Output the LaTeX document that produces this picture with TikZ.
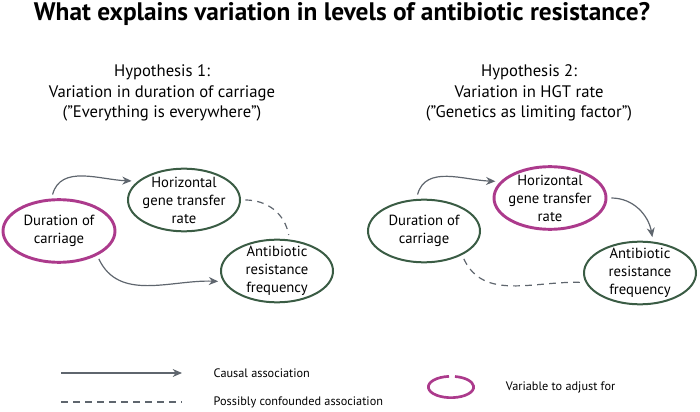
\documentclass[tikz,border=0pt]{standalone}
\usepackage{fontspec}
\setmainfont{PT Sans}
\usetikzlibrary{arrows.meta,positioning,shapes.geometric}
\definecolor{adjcol}{RGB}{172,58,140}
\definecolor{varcol}{RGB}{58,92,68}
\definecolor{arrcol}{RGB}{95,102,110}
\tikzset{
  every picture/.style={line width=0.9pt},
  var/.style={draw=varcol, ellipse, line width=1.5pt, minimum width=84pt, minimum height=47pt,
    inner xsep=-3pt, inner ysep=-3pt, outer sep=4pt, align=center,
    font=\fontsize{11}{13.5}\selectfont},
  adj/.style={var, draw=adjcol, line width=2.2pt},
  causal/.style={draw=arrcol, -{Stealth[length=7pt,width=6pt]}},
  confound/.style={draw=arrcol, dash pattern=on 5pt off 4pt},
  hyp/.style={align=center, font=\fontsize{12.5}{15.3}\selectfont},
  legend/.style={font=\fontsize{9.2}{11}\selectfont, anchor=west}
}

\begin{document}
\begin{tikzpicture}[x=0.75pt, y=0.75pt]
  \useasboundingbox (0,0) rectangle (700,411);

  \node[font=\fontsize{19}{22}\selectfont\bfseries] (title) at (342,397)
    {What explains variation in levels of antibiotic resistance?};

  \node[hyp] (hyp1) at (162,318) {Hypothesis 1:\\Variation in duration of carriage\\(''Everything is everywhere'')};
  \node[hyp] (hyp2) at (529,318) {Hypothesis 2:\\Variation in HGT rate\\(''Genetics as limiting factor'')};

  % hypothesis 1
  \node[adj] (dur1) at (59,180) {Duration of\\carriage};
  \node[var] (hgt1) at (184,211) {Horizontal\\gene transfer\\rate};
  \node[var] (abr1) at (277,140) {Antibiotic\\resistance\\frequency};

  \draw[causal] (dur1.100) to[out=75, in=178] (hgt1.160);
  \draw[causal] (dur1.-35) to[out=-65, in=178] (abr1.190);
  \draw[confound] (hgt1.0) to[out=0, in=100] (abr1.72);

  % hypothesis 2
  \node[var] (dur2) at (424,180) {Duration of\\carriage};
  \node[adj] (hgt2) at (550,213) {Horizontal\\gene transfer\\rate};
  \node[var] (abr2) at (640,138) {Antibiotic\\resistance\\frequency};

  \draw[causal] (dur2.100) to[out=75, in=178] (hgt2.163);
  \draw[causal] (hgt2.0) to[out=0, in=100] (abr2.71);
  \draw[confound] (dur2.-35) to[out=-65, in=178] (abr2.189);

  % legend
  \coordinate (c1s) at (61,38);
  \coordinate (c1e) at (182,38);
  \coordinate (c2s) at (61,9);
  \coordinate (c2e) at (182,9);
  \draw[causal] (c1s) -- (c1e);
  \draw[confound] (c2s) -- (c2e);
  \node[legend, right=20pt of c1e] (lcausal) {Causal association};
  \node[legend, right=20pt of c2e] (lconf) {Possibly confounded association};

  \node[ellipse, minimum width=34pt, minimum height=16pt, inner sep=0pt] (key) at (451,24) {};
  \draw[adjcol, line width=2pt] ([shift={(95:17pt and 8pt)}]key.center)
    arc[start angle=95, end angle=440, x radius=17pt, y radius=8pt];
  \node[legend, right=20pt of key] (ladj) {Variable to adjust for};
\end{tikzpicture}
\end{document}
